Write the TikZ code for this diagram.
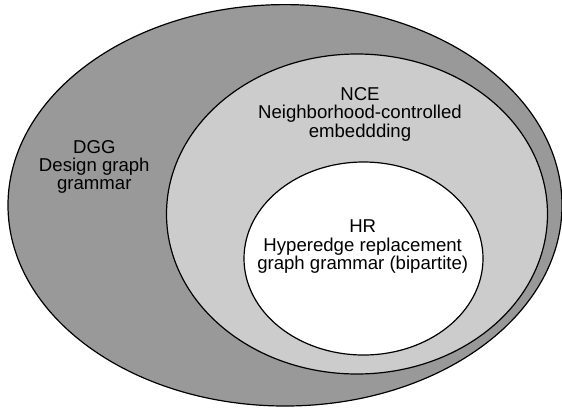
\documentclass[tikz,border=0pt]{standalone}
\usepackage{fontspec}
\setmainfont{Liberation Sans}
\begin{document}
\begin{tikzpicture}[x=1pt,y=-1pt,
  region/.style={draw=black,line width=1.2pt},
  label/.style={align=center,inner sep=0pt,font=\fontsize{18.6}{18.3}\selectfont}]
\useasboundingbox (0,0) rectangle (562,408);
% nested grammar classes
\draw[region,fill={rgb,255:red,153;green,153;blue,153}] (285,205.3) ellipse [x radius=277,y radius=200.7];
\draw[region,fill={rgb,255:red,204;green,204;blue,204}] (357,214) ellipse [x radius=190.5,y radius=160];
\draw[region,fill=white] (363.5,258.5) ellipse [x radius=119.5,y radius=96.5];
% labels
\node[label] (dgg) at (94.3,166.8) {DGG\\Design graph\\grammar};
\node[label] (nce) at (360,114.3) {NCE\\Neighborhood-controlled\\embeddding};
\node[label] (hr) at (362.7,246.6) {HR\\Hyperedge replacement\\graph grammar (bipartite)};
\end{tikzpicture}
\end{document}
